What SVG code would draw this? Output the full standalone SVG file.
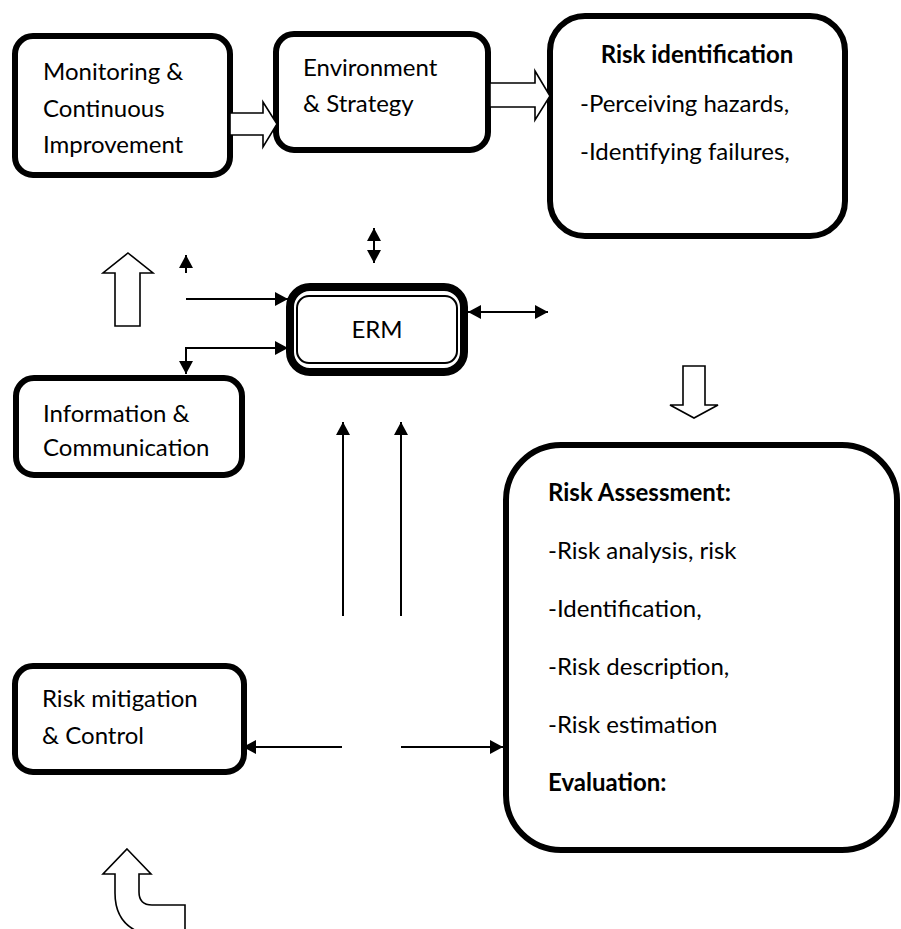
<svg xmlns="http://www.w3.org/2000/svg" width="901" height="929" viewBox="0 0 901 929">
<defs>
<style>
.box{fill:#fff;stroke:#000;stroke-width:6}
.t{font-family:Lato,"Open Sans","Liberation Sans",sans-serif;font-size:24px;fill:#000}
.b{font-weight:bold}
.hollow{fill:#fff;stroke:#000;stroke-width:1.6;stroke-linejoin:miter}
.c{stroke:#000;stroke-width:2;fill:none}
</style>
<marker id="ah" viewBox="0 0 13 14" refX="13" refY="7" markerWidth="13" markerHeight="14" markerUnits="userSpaceOnUse" orient="auto-start-reverse">
<path d="M0,0 L13,7 L0,14 z" fill="#000"/>
</marker>
</defs>
<rect width="901" height="929" fill="#fff"/>

<g id="monitoring">
<rect class="box" x="15" y="36" width="215" height="139" rx="18"/>
<text class="t" x="43" y="80" font-size="25">Monitoring &amp;</text>
<text class="t" x="43" y="117" font-size="25">Continuous</text>
<text class="t" x="43" y="153" font-size="25">Improvement</text>
</g>

<g id="environment">
<rect class="box" x="276" y="34" width="212" height="116" rx="18"/>
<text class="t" x="303" y="76">Environment</text>
<text class="t" x="303" y="112">&amp; Strategy</text>
</g>

<g id="risk-identification">
<rect class="box" x="550" y="16" width="295" height="220" rx="35"/>
<text class="t b" x="697" y="63" text-anchor="middle">Risk identification</text>
<text class="t" x="580" y="112">-Perceiving hazards,</text>
<text class="t" x="580" y="160">-Identifying failures,</text>
</g>

<g id="erm">
<rect x="290" y="287" width="174" height="85" rx="20" fill="#fff" stroke="#000" stroke-width="8"/>
<rect x="297" y="296" width="160" height="67" rx="12" fill="none" stroke="#000" stroke-width="2"/>
<text class="t" x="377" y="338" text-anchor="middle" font-size="28">ERM</text>
</g>

<g id="information">
<rect class="box" x="16" y="378" width="226" height="97" rx="18"/>
<text class="t" x="43" y="422">Information &amp;</text>
<text class="t" x="43" y="456">Communication</text>
</g>

<g id="risk-mitigation">
<rect class="box" x="15" y="666" width="229" height="106" rx="18"/>
<text class="t" x="42" y="707">Risk mitigation</text>
<text class="t" x="42" y="744">&amp; Control</text>
</g>

<g id="risk-assessment">
<rect class="box" x="506" y="445" width="391" height="405" rx="55"/>
<text class="t b" x="548" y="501">Risk Assessment:</text>
<text class="t" x="548" y="559">-Risk analysis, risk</text>
<text class="t" x="548" y="617">-Identification,</text>
<text class="t" x="548" y="675">-Risk description,</text>
<text class="t" x="548" y="733">-Risk estimation</text>
<text class="t b" x="548" y="791">Evaluation:</text>
</g>

<g id="connectors">
<polygon class="hollow" points="230,113 263,113 263,102 277,124 263,147 263,135 230,135"/>
<polygon class="hollow" points="490,83 535,83 535,71 550,96 535,120 535,107 490,107"/>
<polygon class="hollow" points="128,253 153,273 140,273 140,326 115,326 115,273 103,273"/>
<polygon class="hollow" points="683,366 705,366 705,405 718,405 694,418 670,405 683,405"/>
<path class="hollow" d="M127,849 L151,874 L139,874 L139,892 Q139,905 152,905 L185,905 L185,935 L148,935 Q115,927 115,893 L115,874 L103,874 Z"/>
<line class="c" x1="374" y1="228" x2="374" y2="263" marker-start="url(#ah)" marker-end="url(#ah)"/>
<line class="c" x1="186" y1="273" x2="186" y2="255" marker-end="url(#ah)"/>
<line class="c" x1="186" y1="299" x2="288" y2="299" marker-end="url(#ah)"/>
<path class="c" d="M186,374 L186,348 L288,348" marker-start="url(#ah)" marker-end="url(#ah)"/>
<line class="c" x1="468" y1="312" x2="548" y2="312" marker-start="url(#ah)" marker-end="url(#ah)"/>
<line class="c" x1="343" y1="616" x2="343" y2="422" marker-end="url(#ah)"/>
<line class="c" x1="401" y1="616" x2="401" y2="422" marker-end="url(#ah)"/>
<line class="c" x1="342" y1="747" x2="243" y2="747" marker-end="url(#ah)"/>
<line class="c" x1="401" y1="747" x2="503" y2="747" marker-end="url(#ah)"/>
</g>
</svg>
